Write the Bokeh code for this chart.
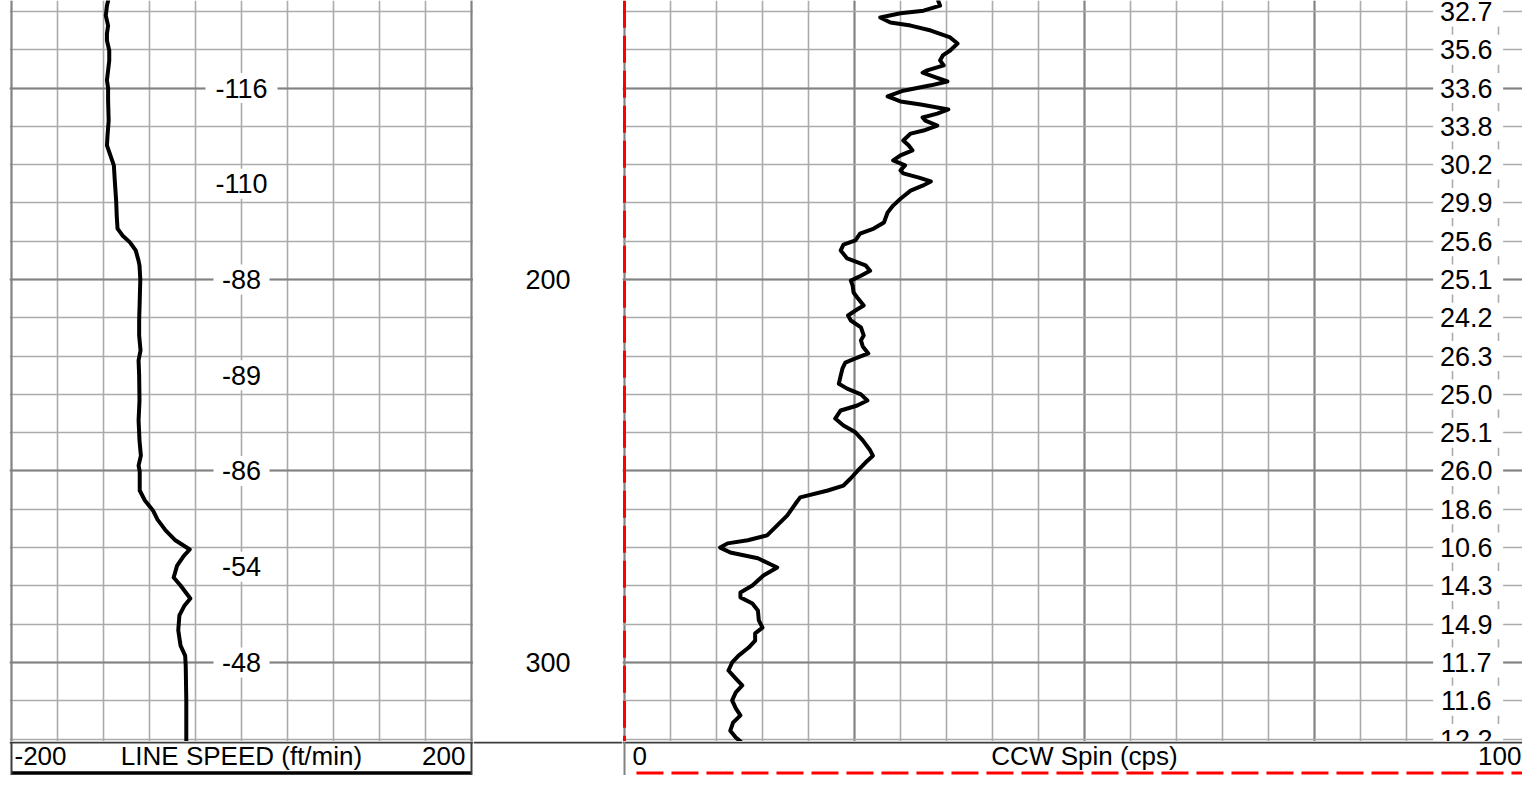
from bokeh.plotting import figure
from bokeh.layouts import row, column
from bokeh.models import Range1d, Grid, SingleIntervalTicker, FixedTicker, Span
from bokeh.core.properties import value
from bokeh.embed import file_html
from bokeh.resources import INLINE

# ---------------- data ----------------
speed_depth = [127.2, 128.5, 131.1, 133.7, 135.8, 137.6, 140.2, 142.8, 145.4, 148.0,
               150.0, 153.3, 158.5, 162.4, 165.0, 167.6, 170.2, 175.0, 179.4, 183.3,
               186.7, 188.5, 190.3, 192.4, 195.0, 196.3, 200.0, 205.5, 210.7, 214.6,
               218.5, 221.1, 225.0, 231.6, 236.8, 242.0, 246.0, 248.6, 250.1, 255.1,
               257.7, 260.3, 262.7, 265.5, 268.1, 270.5, 272.1, 274.7, 277.8, 279.9,
               283.3, 285.1, 287.7, 291.6, 295.6, 298.2, 300.8, 309.9, 320.6]
speed_value = [-116, -117, -118, -116, -117, -117, -115, -115, -116, -117,
               -116, -116, -115.5, -116.5, -117, -114, -111, -110, -109, -108.5,
               -107.8, -103.5, -97, -92, -89.6, -88.7, -88, -88.5, -89, -89,
               -87.8, -89.5, -89, -88.7, -89.5, -88.7, -87.5, -89.5, -88.5, -88.5,
               -84, -77, -73, -66, -57.5, -45, -50, -56, -59, -53,
               -44.5, -49.5, -54, -55, -53, -49, -48.5, -48, -48]

spin_depth = [127.2, 128.5, 129.8, 130.5, 131.6, 132.9, 133.7, 135.0, 136.8, 138.4,
              140.2, 141.5, 142.8, 144.1, 145.4, 146.0, 147.0, 148.3, 149.3, 150.7,
              152.2, 153.5, 154.3, 155.6, 156.7, 157.7, 158.5, 159.8, 161.1, 161.9,
              163.7, 165.0, 166.3, 167.6, 168.9, 170.2, 171.5, 172.3, 173.4, 174.4,
              175.5, 176.8, 178.9, 180.7, 182.5, 185.1, 186.7, 188.0, 189.8, 190.9,
              192.4, 194.5, 196.3, 197.7, 199.0, 200.3, 201.6, 203.4, 204.7, 206.8,
              208.1, 209.4, 210.7, 212.5, 214.6, 215.9, 217.5, 219.3, 220.6, 221.7,
              223.2, 225.1, 227.2, 228.5, 230.0, 231.6, 232.9, 234.2, 236.3, 238.1,
              239.9, 242.0, 244.6, 246.0, 247.8, 249.8, 251.9, 253.8, 255.1, 256.9,
              258.5, 261.6, 264.2, 266.8, 268.1, 268.9, 270.0, 271.3, 272.8, 275.2,
              277.3, 279.9, 281.7, 283.0, 284.6, 286.4, 289.0, 290.9, 292.4, 294.3,
              296.1, 298.2, 300.0, 302.1, 304.2, 306.0, 307.8, 309.9, 312.0, 313.8,
              315.7, 317.8, 319.6, 320.6]
spin_value = [34.1, 34.3, 32.5, 30.0, 27.8, 28.9, 31.1, 33.3, 35.4, 36.2,
              35.4, 34.6, 34.3, 34.7, 32.9, 32.4, 33.6, 35.1, 33.3, 30.3,
              28.6, 30.0, 32.2, 35.2, 34.0, 32.4, 32.7, 34.0, 32.5, 31.1,
              30.3, 30.9, 31.3, 30.0, 29.2, 30.5, 30.0, 30.3, 32.0, 33.3,
              32.4, 31.1, 30.0, 29.2, 28.6, 28.2, 27.1, 25.6, 25.1, 23.8,
              23.5, 24.2, 26.2, 26.7, 25.7, 24.6, 24.8, 24.9, 25.3, 26.0,
              25.1, 24.3, 24.6, 25.7, 26.0, 25.7, 25.9, 26.5, 25.1, 24.0,
              23.7, 23.5, 23.3, 24.2, 25.7, 26.4, 25.3, 23.5, 22.9, 23.8,
              25.1, 25.9, 26.7, 27.0, 26.2, 25.4, 24.6, 23.8, 22.1, 19.1,
              18.6, 17.7, 16.6, 15.5, 13.4, 11.2, 10.4, 11.5, 14.5, 16.6,
              15.1, 13.9, 12.6, 12.6, 13.9, 14.5, 14.6, 15.0, 14.2, 14.2,
              13.5, 12.4, 11.7, 11.3, 12.1, 12.8, 12.1, 11.7, 12.1, 12.6,
              11.8, 11.5, 12.1, 12.6]

ccw_depth = [127.2, 320.6]
ccw_value = [0.0, 0.0]

speed_label_depth = [150, 175, 200, 225, 250, 275, 300]
speed_label_text = ["-116", "-110", "-88", "-89", "-86", "-54", "-48"]

spin_label_depth = [130, 140, 150, 160, 170, 180, 190, 200, 210, 220,
                    230, 240, 250, 260, 270, 280, 290, 300, 310, 320]
spin_label_text = ["32.7", "35.6", "33.6", "33.8", "30.2", "29.9", "25.6", "25.1", "24.2", "26.3",
                   "25.0", "25.1", "26.0", "18.6", "10.6", "14.3", "14.9", "11.7", "11.6", "12.2"]

depth_ticks = [200, 300]
depth_tick_text = ["200", "300"]

speed_range = [-200, 200]
spin_range = [0, 100]
speed_title = "LINE SPEED (ft/min)"
spin_title = "CCW Spin (cps)"

# ---------------- layout / style ----------------
FONT = value("Liberation Sans")
FS = "27px"
MAJOR = "#828282"
MINOR = "#ababab"
EDGE = "#3c3c3c"

TRACK_H = 741
HEAD_H = 34
PX_PER_DEPTH = 3.8298
TOP_DEPTH = 200 - 279 / PX_PER_DEPTH
BOT_DEPTH = 200 + (TRACK_H - 279) / PX_PER_DEPTH

LEFT_W, MID_W, RIGHT_W = 473, 149, 900
LEFT_PAD = 9
SPEED_PX = 1.15      # px per ft/min
SPIN_PX = 9.2        # px per cps
left_xr = (speed_range[0] - 2 / SPEED_PX, speed_range[1] + 2 / SPEED_PX)
right_xr = (spin_range[0] - 2 / SPIN_PX, spin_range[0] + (RIGHT_W - 2) / SPIN_PX)


def base(width, height, xr, yr, border_left=0):
    p = figure(width=width, height=height, x_range=Range1d(*xr), y_range=Range1d(*yr),
               toolbar_location=None, output_backend="svg",
               x_axis_location=None, y_axis_location=None,
               min_border=0, min_border_left=border_left,
               outline_line_color=None, background_fill_color="white",
               border_fill_color="white")
    p.grid.visible = False
    return p


def depth_grid(p):
    p.add_layout(Grid(dimension=1, ticker=SingleIntervalTicker(interval=50, num_minor_ticks=5),
                      grid_line_color=MAJOR, grid_line_width=2,
                      minor_grid_line_color=MINOR, minor_grid_line_width=1.6))


def label_text(p, x, y, text, **kw):
    p.text(x=x, y=y, text=text, text_baseline="middle", text_font=FONT,
           text_font_size=kw.pop("size", FS), text_color="black", **kw)


# ---- left track: line speed
lt = base(LEFT_W, TRACK_H, left_xr, (BOT_DEPTH, TOP_DEPTH), border_left=LEFT_PAD)
lt.add_layout(Grid(dimension=0, ticker=SingleIntervalTicker(interval=40),
                   grid_line_color=MINOR, grid_line_width=1.6))
depth_grid(lt)
lt.add_layout(Grid(dimension=0, ticker=FixedTicker(ticks=speed_range),
                   grid_line_color=MAJOR, grid_line_width=2))
speed_mid = (speed_range[0] + speed_range[1]) / 2
lt.rect(x=speed_mid, y=speed_label_depth,
        width=[8 + 16 * len(t) for t in speed_label_text], height=30,
        width_units="screen", height_units="screen", fill_color="white", line_color=None)
label_text(lt, speed_mid, speed_label_depth, speed_label_text, text_align="center")
lt.line(speed_value, speed_depth, line_color="black", line_width=4,
        line_join="round", line_cap="round")

# ---- middle track: depth
mt = base(MID_W, TRACK_H, (0, 1), (BOT_DEPTH, TOP_DEPTH))
label_text(mt, 0.5, depth_ticks, depth_tick_text, text_align="center")

# ---- right track: spin
rt = base(RIGHT_W, TRACK_H, right_xr, (BOT_DEPTH, TOP_DEPTH))
rt.add_layout(Grid(dimension=0, ticker=SingleIntervalTicker(interval=25, num_minor_ticks=5),
                   grid_line_color=MAJOR, grid_line_width=2,
                   minor_grid_line_color=MINOR, minor_grid_line_width=1.6))
depth_grid(rt)
LABEL_X = 91.5
rt.rect(x=LABEL_X + 0.2, y=spin_label_depth, width=70, height=30,
        width_units="screen", height_units="screen", fill_color="white", line_color=None)
label_text(rt, LABEL_X, spin_label_depth, spin_label_text, text_align="center")
rt.line(ccw_value, ccw_depth, line_color="red", line_width=3, line_dash="27 8")
rt.line(spin_value, spin_depth, line_color="black", line_width=4,
        line_join="round", line_cap="round")

# ---- headers (y measured in px downward from the header top)
HY = (HEAD_H, 0)
TEXT_Y = 14
LEG_Y = 31.5
HFS = "26px"

lh = base(LEFT_W, HEAD_H, left_xr, HY, border_left=LEFT_PAD)
lh.add_layout(Span(location=1, dimension="width", line_color=EDGE, line_width=2))
lh.add_layout(Span(location=speed_range[0], dimension="height", line_color=EDGE, line_width=2))
lh.add_layout(Span(location=speed_range[1], dimension="height", line_color=EDGE, line_width=2))
lh.segment(x0=speed_range[0], x1=speed_range[1], y0=LEG_Y, y1=LEG_Y, line_color="black", line_width=3.5)
label_text(lh, [speed_range[0]], [TEXT_Y], ["%d" % speed_range[0]], x_offset=3, text_align="left", size=HFS)
label_text(lh, [speed_mid], [TEXT_Y], [speed_title], text_align="center", size=HFS)
label_text(lh, [speed_range[1]], [TEXT_Y], ["%d" % speed_range[1]], x_offset=-6, text_align="right", size=HFS)

mh = base(MID_W, HEAD_H, (0, 1), HY)
mh.add_layout(Span(location=1, dimension="width", line_color=EDGE, line_width=2))

rh = base(RIGHT_W, HEAD_H, right_xr, HY)
rh.add_layout(Span(location=1, dimension="width", line_color=EDGE, line_width=2))
rh.add_layout(Span(location=spin_range[0], dimension="height", line_color=MAJOR, line_width=2))
rh.segment(x0=spin_range[0] + 1.3, x1=spin_range[1], y0=LEG_Y, y1=LEG_Y,
           line_color="red", line_width=3, line_dash="27 8")
spin_mid = (spin_range[0] + spin_range[1]) / 2
label_text(rh, [spin_range[0]], [TEXT_Y], ["%d" % spin_range[0]], x_offset=8, text_align="left", size=HFS)
label_text(rh, [spin_mid], [TEXT_Y], [spin_title], text_align="center", size=HFS)
label_text(rh, [right_xr[1]], [TEXT_Y], ["%d" % spin_range[1]], x_offset=-1, text_align="right", size=HFS)

layout = column(row(lt, mt, rt, spacing=0), row(lh, mh, rh, spacing=0), spacing=0)

open("out.html", "w").write(file_html(layout, INLINE))
